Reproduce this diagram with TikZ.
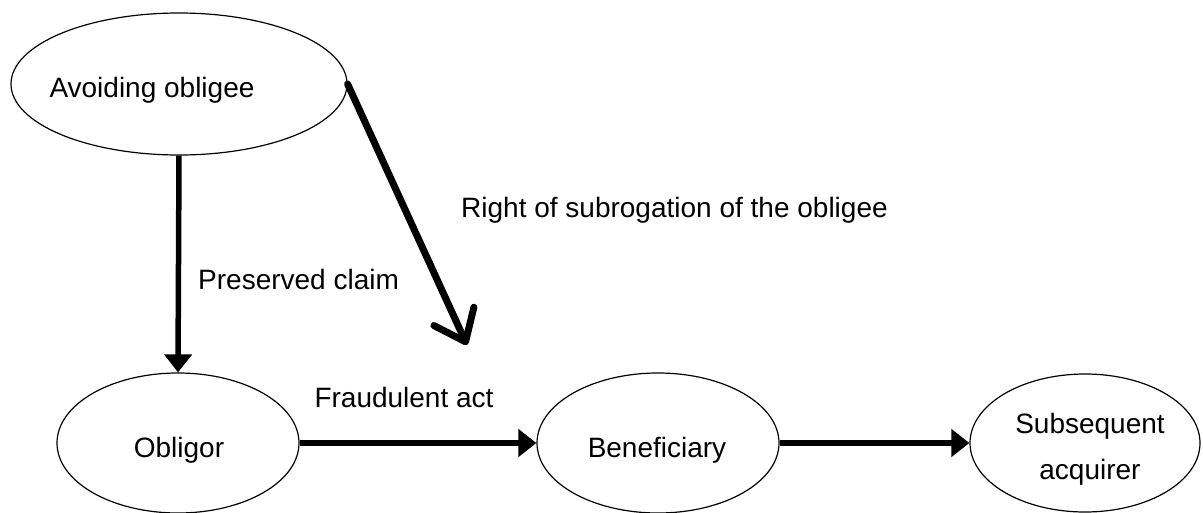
\documentclass[tikz,border=0pt]{standalone}
\usepackage{fontspec}
\setmainfont{Liberation Sans}
\usetikzlibrary{shapes.geometric,arrows.meta}
\tikzset{
  party/.style={draw=black, line width=1.2pt, ellipse, inner sep=0pt},
  lbl/.style={inner sep=0pt, font=\fontsize{28}{46}\selectfont},
  solidarrow/.style={line width=5.5pt, -{Triangle[length=18pt,width=27pt]}},
  openarrow/.style={line width=7pt, line cap=round, -{Straight Barb[length=28pt,width=44pt,line cap=round,line join=round]}}
}
\begin{document}
\begin{tikzpicture}[x=1pt,y=-1pt]
\useasboundingbox (0,0) rectangle (1203,512);
\node[party, minimum width=336pt, minimum height=142pt] (a) at (179,84) {};
\node[party, minimum width=242pt, minimum height=140pt] (o) at (178,443) {};
\node[party, minimum width=242pt, minimum height=140pt] (b) at (658,443) {};
\node[party, minimum width=230pt, minimum height=138pt] (s) at (1085,443) {};
\node[lbl, anchor=base] (ta) at (152,97) {Avoiding obligee};
\node[lbl, anchor=base] (to) at (179,457) {Obligor};
\node[lbl, anchor=base] (tb) at (657,457) {Beneficiary};
\node[lbl, anchor=base, align=center] (ts) at (1090,479) {Subsequent\\acquirer};
\node[lbl, anchor=base] (tf) at (404,407) {Fraudulent act};
\node[lbl, anchor=base west] (tp) at (198,289) {Preserved claim};
\node[lbl, anchor=base west] (tr) at (461,217) {Right of subrogation of the obligee};
\coordinate (d) at (467,345);
\draw[solidarrow] (a.south) -- (o.north);
\draw[solidarrow] (o.east) -- (b.west);
\draw[solidarrow] (b.east) -- (s.west);
\draw[openarrow] (a.east) -- (d);
\end{tikzpicture}
\end{document}
